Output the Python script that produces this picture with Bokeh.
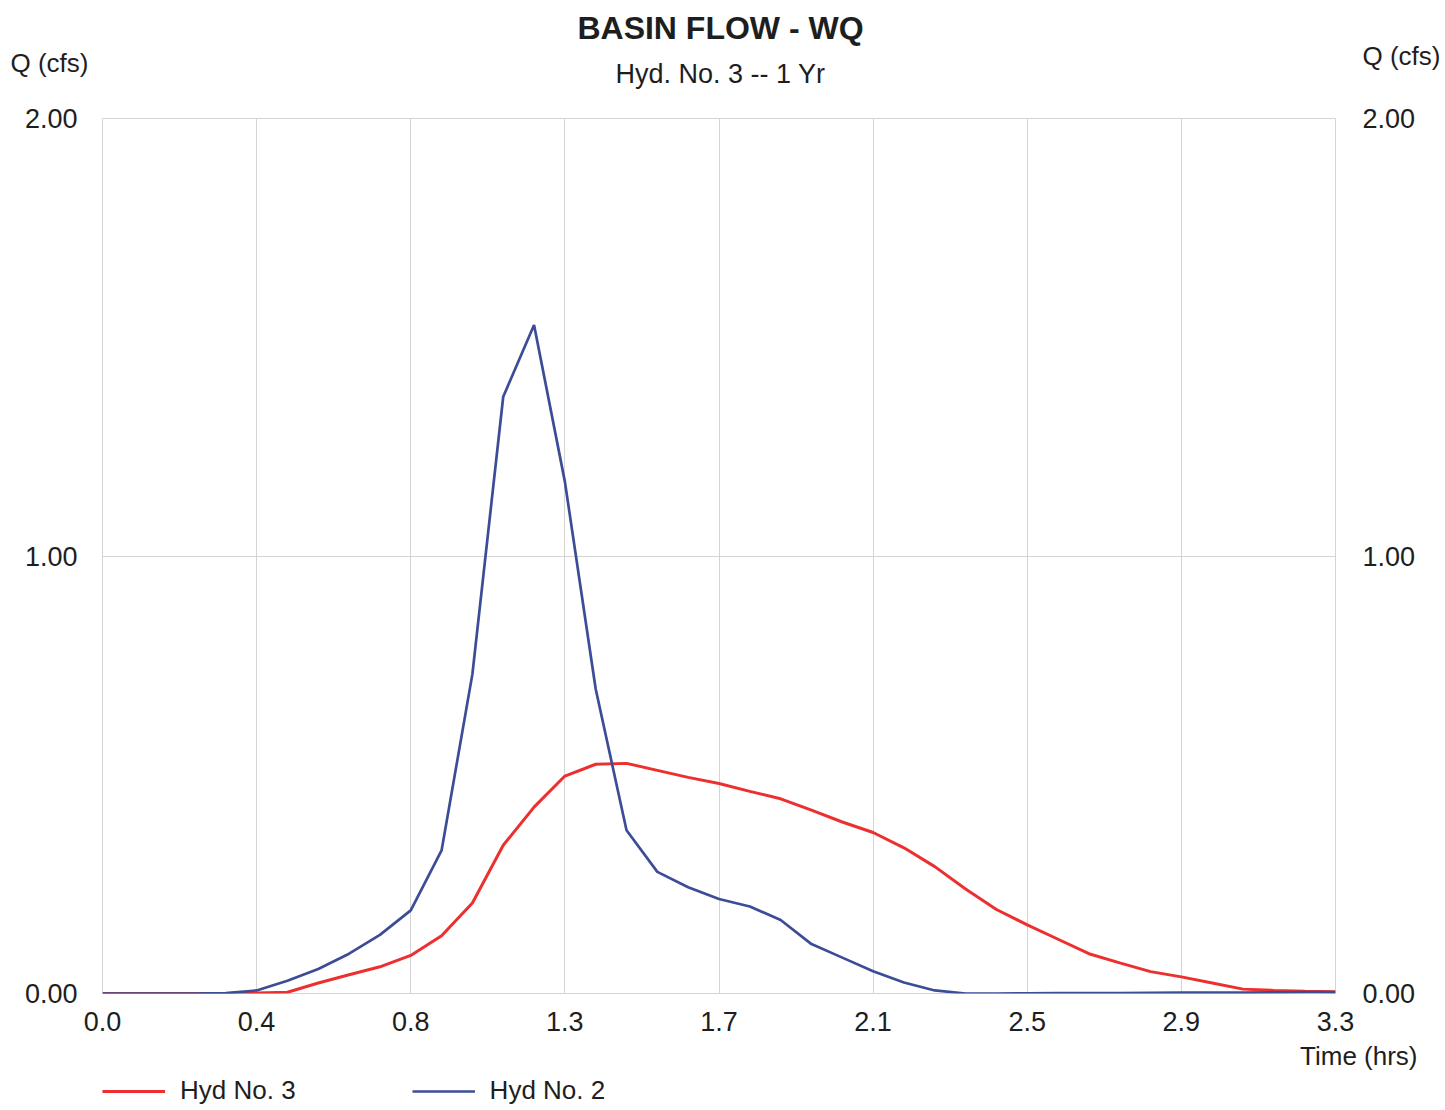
from bokeh.plotting import figure
from bokeh.layouts import column
from bokeh.models import LinearAxis, FixedTicker, Range1d, Legend, LegendItem
from bokeh.core.properties import value
from bokeh.embed import file_html
from bokeh.resources import INLINE

# ---- data (time in minutes, flow in cfs) ----
time_min = [0, 5, 10, 15, 20, 25, 30, 35, 40, 45, 50, 55, 60, 65, 70, 75, 80, 85, 90, 95,
            100, 105, 110, 115, 120, 125, 130, 135, 140, 145, 150, 155, 160, 165, 170, 175,
            180, 185, 190, 195, 200]
hyd3 = [0.0, 0.0, 0.0, 0.0, 0.0, 0.001, 0.003, 0.024, 0.043, 0.061, 0.087, 0.132, 0.207,
        0.339, 0.426, 0.497, 0.524, 0.526, 0.510, 0.494, 0.480, 0.462, 0.445, 0.419, 0.392,
        0.368, 0.333, 0.290, 0.239, 0.192, 0.157, 0.124, 0.091, 0.070, 0.050, 0.038, 0.024,
        0.010, 0.007, 0.005, 0.004]
hyd2 = [0.0, 0.0, 0.0, 0.0, 0.001, 0.007, 0.029, 0.056, 0.091, 0.134, 0.190, 0.327, 0.730,
        1.364, 1.528, 1.170, 0.696, 0.373, 0.278, 0.243, 0.216, 0.199, 0.168, 0.113, 0.082,
        0.051, 0.025, 0.007, 0.0, 0.0, 0.0005, 0.001, 0.001, 0.001, 0.0015, 0.002, 0.002,
        0.002, 0.0025, 0.003, 0.003]

x_ticks = [0, 25, 50, 75, 100, 125, 150, 175, 200]
x_tick_labels = ["0.0", "0.4", "0.8", "1.3", "1.7", "2.1", "2.5", "2.9", "3.3"]
y_ticks = [0, 1, 2]
y_tick_labels = ["0.00", "1.00", "2.00"]

title_text = "BASIN FLOW - WQ"
subtitle_text = "Hyd. No. 3 -- 1 Yr"
y_label = "Q (cfs)"
x_label = "Time (hrs)"
series_names = ["Hyd No. 3", "Hyd No. 2"]

FONT = "Liberation Sans"
TXT = "#1e1e1e"
GRID = "#d4d4d4"
RED = "#ec2f2f"
BLUE = "#3c4c96"
W = 1445
HEAD_H = 90
FOOT_H = 70
MAIN_H = 1110 - HEAD_H - FOOT_H
NAN = float("nan")


def no_align(fig):
    if "frame_align" in fig.properties():
        fig.frame_align = False


def blank(height):
    f = figure(width=W, height=height, output_backend="svg", toolbar_location=None,
               x_range=Range1d(0, W), y_range=Range1d(height, 0),
               x_axis_location=None, y_axis_location=None, min_border=0,
               outline_line_color=None, border_fill_color="white",
               background_fill_color="white")
    f.xgrid.visible = False
    f.ygrid.visible = False
    no_align(f)
    return f


def txt(fig, x, y, s, align="left", size="26px", style="normal"):
    fig.text(x=[x], y=[y], text=[s], text_align=align, text_baseline="middle",
             text_font=value(FONT), text_font_size=value(size), text_font_style=style,
             text_color=TXT)


# ---- header ----
head = blank(HEAD_H)
txt(head, 720, 27, title_text, align="center", size="32px", style="bold")
txt(head, 720, 73, subtitle_text, align="center", size="27px")
txt(head, 10, 62, y_label)
txt(head, 1362, 55, y_label)

# ---- main chart ----
p = figure(width=W, height=MAIN_H, output_backend="svg", toolbar_location=None,
           x_range=Range1d(0, 200), y_range=Range1d(0, 2),
           min_border_left=102, min_border_right=110, min_border_top=118 - HEAD_H,
           min_border_bottom=MAIN_H - (993 - HEAD_H), background_fill_color="white",
           border_fill_color="white", outline_line_color=GRID, outline_line_width=1)
no_align(p)

p.line(time_min, hyd3, line_color=RED, line_width=3)
p.line(time_min, hyd2, line_color=BLUE, line_width=2.7)

xa = p.xaxis[0]
xa.ticker = FixedTicker(ticks=x_ticks)
xa.major_label_overrides = {t: l for t, l in zip(x_ticks, x_tick_labels)}
ya = p.yaxis[0]
ya.ticker = FixedTicker(ticks=y_ticks)
ya.major_label_overrides = {t: l for t, l in zip(y_ticks, y_tick_labels)}
ra = LinearAxis(ticker=FixedTicker(ticks=y_ticks),
                major_label_overrides={t: l for t, l in zip(y_ticks, y_tick_labels)})
p.add_layout(ra, "right")

for ax in (xa, ya, ra):
    ax.axis_line_color = None
    ax.major_tick_line_color = None
    ax.minor_tick_line_color = None
    ax.major_label_text_font = FONT
    ax.major_label_text_font_size = "27px"
    ax.major_label_text_color = TXT
xa.major_label_standoff = 12
ya.major_label_standoff = 19
ra.major_label_standoff = 21

p.xgrid.ticker = FixedTicker(ticks=x_ticks)
p.ygrid.ticker = FixedTicker(ticks=y_ticks)
p.xgrid.grid_line_color = GRID
p.ygrid.grid_line_color = GRID

# ---- footer: x-axis title and legend ----
foot = blank(FOOT_H)
foot_y0 = HEAD_H + MAIN_H
txt(foot, 1417, 1055 - foot_y0, x_label, align="right")
k3 = foot.line(x=[NAN, NAN], y=[NAN, NAN], line_color=RED, line_width=3)
k2 = foot.line(x=[NAN, NAN], y=[NAN, NAN], line_color=BLUE, line_width=2.7)
legend = Legend(items=[LegendItem(label=series_names[0], renderers=[k3]),
                       LegendItem(label=series_names[1], renderers=[k2])],
                orientation="horizontal", location=(102, FOOT_H - (1106 - foot_y0)),
                glyph_width=63, glyph_height=20, label_standoff=15, spacing=116,
                padding=0, margin=0, border_line_alpha=0, background_fill_alpha=0,
                label_text_font=FONT, label_text_font_size="26px",
                label_text_color=TXT)
foot.add_layout(legend, "center")

layout = column(head, p, foot, spacing=0)
open("out.html", "w").write(file_html(layout, INLINE))
